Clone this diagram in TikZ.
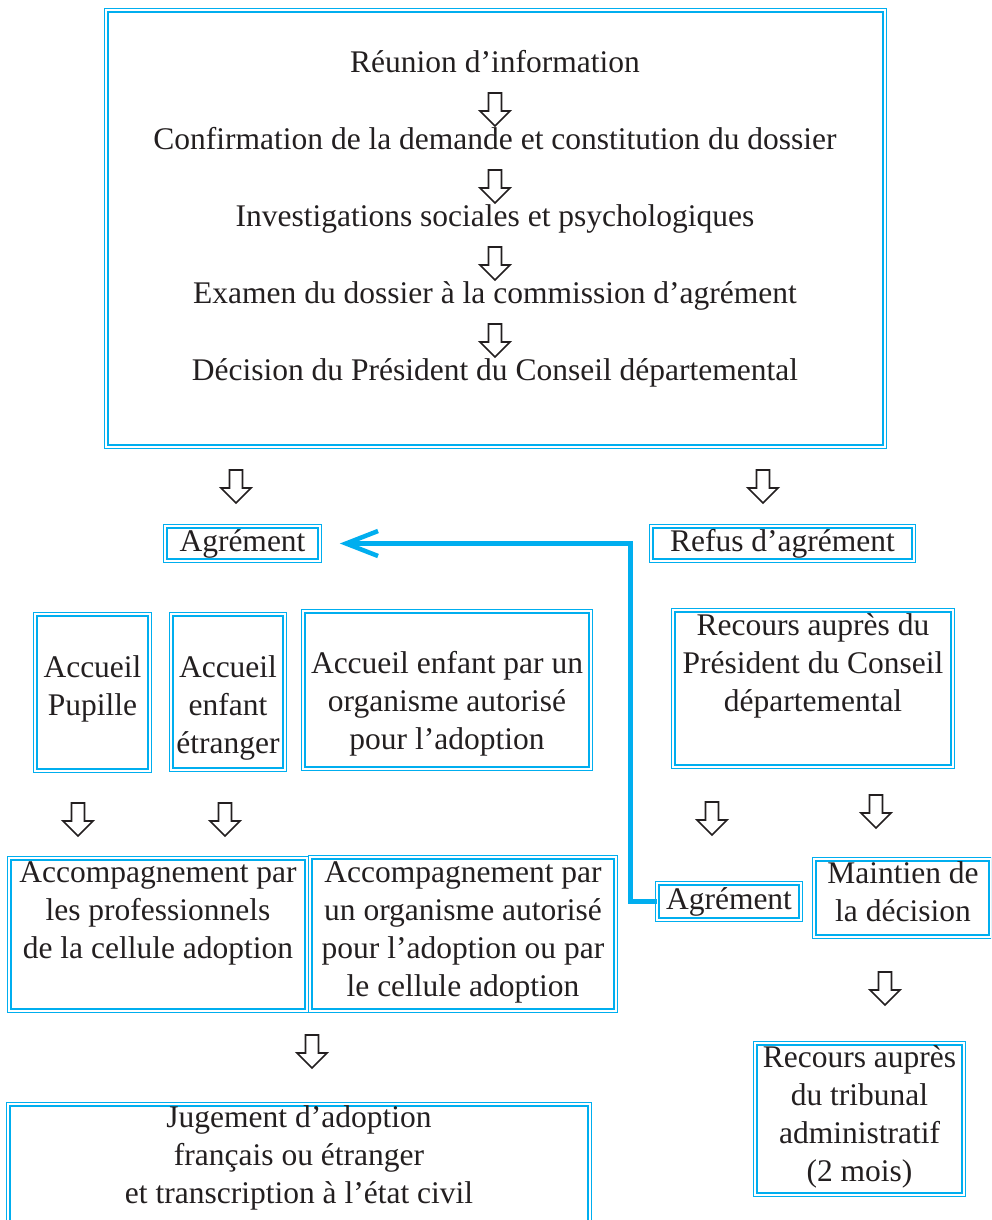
\documentclass[tikz,border=0pt]{standalone}
\usepackage{fontspec}
\setmainfont{Liberation Serif}
\usepackage{xcolor}
\usetikzlibrary{positioning, arrows.meta}
\definecolor{bleuc}{RGB}{0,174,239}
\definecolor{encre}{RGB}{35,31,32}
\newcommand{\police}{\fontsize{31.5}{38}\selectfont}

\tikzset{
	cadre/.style={draw=bleuc, double=white, double distance=2pt, line width=1.6pt, inner sep=0pt},
	texte/.style={font=\police, text=encre, align=center, inner sep=0pt, anchor=north, yshift=26.6pt},
	lien/.style={draw=bleuc, line width=4.5pt, -{Straight Barb[length=32pt, width=25pt]}, shorten >=19.5pt},
	fleche/.pic={\draw[encre, line width=1.7pt, fill=white, line join=miter] (-6.5,0) -- (6.5,0) -- (6.5,18) -- (15,18) -- (0,33) -- (-15,18) -- (-6.5,18) -- cycle;}
}

\begin{document}
\begin{tikzpicture}[x=1pt, y=-1pt]
			\useasboundingbox (0,0) rectangle (991,1220);
			\clip (0,0) rectangle (991,1220);
			
			% cadre du haut
			\node[cadre, minimum width=778.1pt, minimum height=436.1pt] (haut) at (495.5,228.5) {};
			\node[texte] (reunion) at (495,72) {\strut Réunion d’information};
			\node[texte] (confirm) at (495,149) {\strut Confirmation de la demande et constitution du dossier};
			\node[texte] (invest) at (495,226) {\strut Investigations sociales et psychologiques};
			\node[texte] (examen) at (495,303) {\strut Examen du dossier à la commission d’agrément};
			\node[texte] (decision) at (495,380) {\strut Décision du Président du Conseil départemental};
			\foreach \y in {93,170,247,324}
				\pic at (495,\y) {fleche};
			
			% agrement / refus
			\pic at (236,470) {fleche};
			\pic at (763,470) {fleche};
			\node[cadre, font=\police, text=encre, minimum width=154.1pt, minimum height=34.1pt] (agr) at (242.5,543.5) {Agrément};
			\node[cadre, font=\police, text=encre, minimum width=262.1pt, minimum height=34.1pt] (refus) at (782.5,543.5) {Refus d’agrément};
			
			% accueils
			\node[cadre, minimum width=114.1pt, minimum height=156.1pt] (pupille) at (92.5,692.5) {};
			\node[texte] (pupille-t) at (92.5,677) {\strut Accueil\\Pupille};
			\node[cadre, minimum width=113.1pt, minimum height=155.1pt] (etranger) at (228,692) {};
			\node[texte] (etranger-t) at (228,677) {\strut Accueil\\enfant\\étranger};
			\node[cadre, minimum width=287.1pt, minimum height=157.1pt] (oaa) at (447,690) {};
			\node[texte] (oaa-t) at (447,673) {\strut Accueil enfant par un\\organisme autorisé\\pour l’adoption};
			\node[cadre, minimum width=279.1pt, minimum height=156.1pt] (recours) at (813,688.5) {};
			\node[texte] (recours-t) at (813,635) {\strut Recours auprès du\\Président du Conseil\\départemental};
			
			% fleches
			\foreach \x/\y in {78/803, 225/803, 712/802, 876/795, 312/1035, 885/972}
				\pic at (\x,\y) {fleche};
			
			% accompagnements
			\node[cadre, minimum width=297.1pt, minimum height=152.1pt] (accpro) at (158,934.5) {};
			\node[texte] (accpro-t) at (158,882) {\strut Accompagnement par\\les professionnels\\de la cellule adoption};
			\node[cadre, minimum width=305.1pt, minimum height=153.1pt] (accoaa) at (463,934) {};
			\node[texte] (accoaa-t) at (463,882) {\strut Accompagnement par\\un organisme autorisé\\pour l’adoption ou par\\le cellule adoption};
			
			% recours gracieux
			\node[cadre, font=\police, text=encre, minimum width=143.1pt, minimum height=36.1pt] (agr2) at (729,901.5) {Agrément};
			\node[cadre, minimum width=176.1pt, minimum height=77.1pt] (maintien) at (902.5,898) {};
			\node[texte] (maintien-t) at (903,883) {\strut Maintien de\\la décision};
			\draw[lien] (agr2.west) -- ++(-26,0) |- (agr.east);
			
			% tribunal
			\node[cadre, minimum width=208.1pt, minimum height=151.1pt] (tribunal) at (859.5,1119) {};
			\node[texte] (tribunal-t) at (859.5,1067) {\strut Recours auprès\\du tribunal\\administratif\\(2 mois)};
			
			% jugement
			\node[cadre, minimum width=581.1pt, minimum height=133.1pt] (jugement) at (299,1171) {};
			\node[texte] (jugement-t) at (299,1127) {\strut Jugement d’adoption\\français ou étranger\\et transcription à l’état civil};
		\end{tikzpicture}
\end{document}
